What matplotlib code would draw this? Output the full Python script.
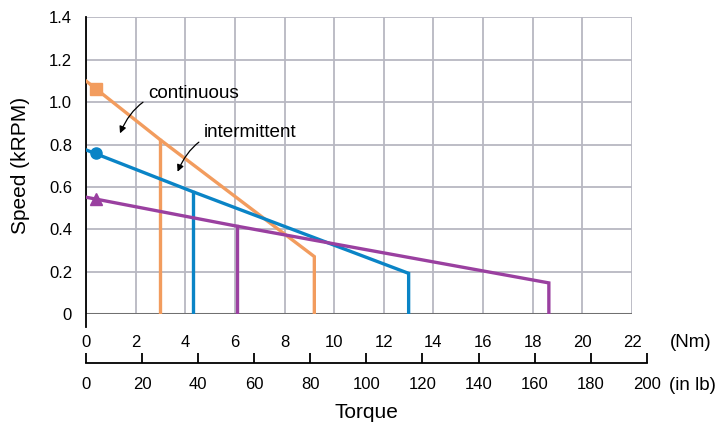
import numpy as np
import matplotlib.pyplot as plt
from matplotlib.lines import Line2D

plt.rcParams['font.family'] = ['Liberation Sans', 'DejaVu Sans']

# speed-torque curves, torque in Nm, speed in kRPM
motors = ['A', 'B', 'C']
colors = ['#f29c5e', '#0a84c6', '#9a40a0']
markers = ['s', 'o', '^']
speed_noload = [1.10, 0.775, 0.552]
torque_cont = [3.0, 4.3, 6.1]
speed_cont = [0.822, 0.578, 0.415]
torque_peak = [9.2, 13.0, 18.65]
speed_peak = [0.272, 0.193, 0.148]
marker_torque = [0.4, 0.4, 0.4]
marker_speed = [1.061, 0.76, 0.542]

nm_ticks = np.arange(0, 23, 2)
inlb_ticks = np.arange(0, 201, 20)
speed_ticks = [0, 0.2, 0.4, 0.6, 0.8, 1.0, 1.2, 1.4]
speed_labels = ['0', '0.2', '0.4', '0.6', '0.8', '1.0', '1.2', '1.4']
NM_PER_INLB = 0.112985

fig = plt.figure(figsize=(7.19, 4.26), dpi=100)
W, H = 719, 426
x0, x1 = 86, 632
y0, y1 = 314.3, 17.3
ax = fig.add_axes([x0 / W, 1 - y0 / H, (x1 - x0) / W, (y0 - y1) / H])

ax.set_xlim(0, 22)
ax.set_ylim(0, 1.4)
ax.set_xticks(nm_ticks)
ax.set_yticks(speed_ticks)
ax.set_yticklabels(speed_labels)
ax.grid(True, color='#b8b8c2', linewidth=1.3)
ax.set_axisbelow(True)
for s in ax.spines.values():
    s.set_visible(False)
ax.tick_params(axis='x', length=0, pad=15, labelsize=12)
ax.tick_params(axis='y', length=0, pad=10, labelsize=12)
ax.set_ylabel('Speed (kRPM)', fontsize=15, labelpad=14)

# zero line and left spine
ax.axhline(0, color='#707070', linewidth=2.2, zorder=1.5)
ax.add_line(Line2D([0, 0], [-0.06, 1.4], color='black', linewidth=1.3, clip_on=False))

for i in range(len(motors)):
    c = colors[i]
    ax.plot([0, torque_cont[i], torque_peak[i], torque_peak[i]],
            [speed_noload[i], speed_cont[i], speed_peak[i], 0],
            color=c, linewidth=2.4, solid_joinstyle='miter', zorder=3)
    ax.plot([torque_cont[i], torque_cont[i]], [speed_cont[i], 0],
            color=c, linewidth=2.4, zorder=3)
    ax.plot(marker_torque[i], marker_speed[i], marker=markers[i], color=c,
            markersize=8, zorder=4)

ax.annotate('continuous', xy=(1.37, 0.853), xytext=(2.5, 1.042),
            fontsize=13.6, va='center', ha='left',
            arrowprops=dict(arrowstyle='-|>', color='black', lw=0.9,
                            connectionstyle='arc3,rad=0.4',
                            shrinkA=2, shrinkB=0, mutation_scale=10))
ax.annotate('intermittent', xy=(3.69, 0.672), xytext=(4.75, 0.858),
            fontsize=13.6, va='center', ha='left',
            arrowprops=dict(arrowstyle='-|>', color='black', lw=0.9,
                            connectionstyle='arc3,rad=0.4',
                            shrinkA=2, shrinkB=0, mutation_scale=10))

fig.text(670 / W, 1 - 342.5 / H, '(Nm)', fontsize=13.5, va='center', ha='left')

# second torque scale in in-lb
inlb_width = (x1 - x0) * (200 * NM_PER_INLB / 22)
ax2 = fig.add_axes([x0 / W, 1 - 363 / H, inlb_width / W, 0.0001])
ax2.set_xlim(0, 200)
ax2.set_xticks(inlb_ticks)
ax2.set_yticks([])
for side in ['top', 'left', 'right']:
    ax2.spines[side].set_visible(False)
ax2.spines['bottom'].set_linewidth(1.3)
ax2.patch.set_visible(False)
ax2.tick_params(axis='x', direction='in', length=7, width=1.3, pad=10, labelsize=12)
ax2.set_xlabel('Torque', fontsize=15, labelpad=8)

fig.text(669 / W, 1 - 385 / H, '(in lb)', fontsize=13.5, va='center', ha='left')

plt.savefig('out.png', dpi=100)
